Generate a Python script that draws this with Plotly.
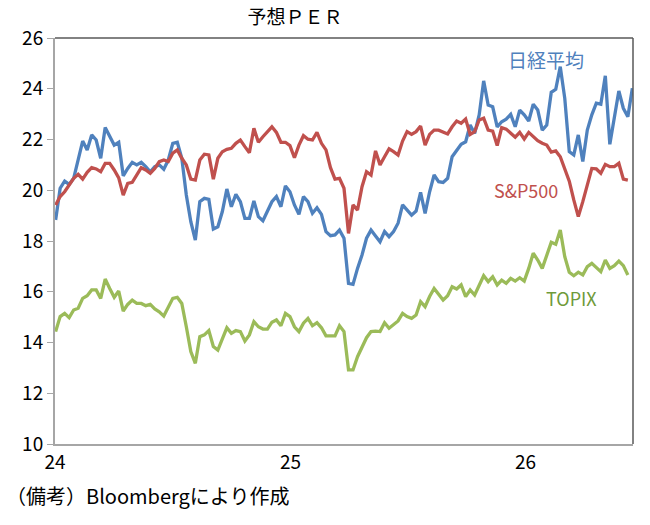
import pandas as pd
import plotly.graph_objects as go

# weekly observations
start_date = "2024-01-02"
n_points = 129
dates = pd.date_range(start_date, periods=n_points, freq="7D")

nikkei = [
    18.83, 20.08, 20.36, 20.23, 20.47, 21.26, 21.94, 21.59, 22.18, 21.98, 21.26, 22.47, 22.11, 21.78, 21.89, 20.57,
    20.86, 21.10, 21.00, 21.10, 20.93, 20.73, 20.93, 21.00, 20.83, 21.19, 21.85, 21.89, 21.26, 19.81, 18.76, 18.04, 19.55,
    19.68, 19.64, 18.47, 18.56, 19.16, 20.05, 19.35, 19.84, 19.55, 18.89, 18.89, 19.58, 18.96, 18.80, 19.16, 19.55,
    19.75, 19.35, 20.17, 19.94, 19.42, 19.05, 19.75, 19.55, 19.09, 19.31, 19.05, 18.37, 18.21, 18.24, 18.43, 18.11,
    16.33, 16.29, 16.92, 17.45, 18.11, 18.43, 18.20, 17.97, 18.37, 18.17, 18.37, 18.70, 19.42, 19.22, 19.02, 19.18,
    19.92, 19.09, 19.94, 20.60, 20.34, 20.31, 20.47, 21.32, 21.59, 21.81, 21.91, 22.57, 22.24, 22.97, 24.31, 23.36,
    23.29, 22.50, 22.70, 22.80, 22.99, 22.50, 23.16, 22.97, 22.73, 23.39, 23.16, 22.37, 22.57, 23.86, 23.98, 24.87,
    23.62, 21.52, 21.39, 22.18, 21.13, 22.37, 22.97, 23.43, 23.39, 24.51, 21.81, 22.90, 23.91, 23.23, 22.90, 24.02,
]

sp500 = [
    19.42, 19.75, 19.94, 20.21, 20.47, 20.63, 20.44, 20.71, 20.89, 20.84, 20.73, 21.06, 21.06, 20.80, 20.49, 19.81,
    20.27, 20.31, 20.63, 20.89, 20.80, 20.67, 20.86, 21.13, 21.19, 21.13, 21.46, 21.59, 21.26, 21.00, 20.44, 20.40, 21.19,
    21.42, 21.39, 20.44, 21.26, 21.52, 21.61, 21.65, 21.85, 21.98, 21.72, 21.48, 22.44, 21.89, 22.11, 22.33, 22.50,
    22.28, 21.89, 21.89, 21.76, 21.28, 21.78, 22.15, 22.01, 21.98, 22.28, 21.85, 21.59, 20.89, 20.44, 20.47, 20.08,
    18.30, 19.42, 19.22, 20.14, 20.73, 20.60, 21.55, 21.00, 21.32, 21.63, 21.52, 21.39, 21.94, 22.31, 22.20, 22.31,
    22.53, 21.78, 22.20, 22.37, 22.37, 22.31, 22.22, 22.50, 22.73, 22.64, 22.81, 22.20, 22.31, 22.77, 22.84, 22.37,
    22.33, 21.76, 22.47, 22.41, 22.24, 22.09, 22.28, 22.02, 22.28, 22.11, 21.95, 21.85, 21.78, 21.50, 21.55, 21.32,
    20.80, 20.36, 19.62, 18.96, 19.55, 20.21, 20.86, 20.84, 20.67, 21.02, 20.93, 20.93, 21.06, 20.44, 20.40, None,
]

topix = [
    14.43, 15.02, 15.15, 14.98, 15.28, 15.35, 15.74, 15.84, 16.07, 16.07, 15.74, 16.50, 16.13, 15.78, 16.03, 15.24,
    15.50, 15.67, 15.54, 15.54, 15.45, 15.50, 15.32, 15.21, 15.04, 15.37, 15.74, 15.78, 15.54, 14.62, 13.64, 13.18, 14.23,
    14.30, 14.47, 13.84, 13.70, 14.14, 14.58, 14.36, 14.47, 14.43, 14.06, 14.30, 14.82, 14.62, 14.53, 14.53, 14.80,
    14.89, 14.66, 15.15, 15.02, 14.62, 14.43, 14.76, 14.95, 14.66, 14.78, 14.58, 14.26, 14.26, 14.26, 14.66, 14.43,
    12.92, 12.92, 13.44, 13.84, 14.19, 14.43, 14.45, 14.43, 14.78, 14.56, 14.69, 14.85, 15.15, 15.02, 14.95, 15.08,
    15.61, 15.41, 15.81, 16.13, 15.90, 15.67, 15.84, 16.20, 16.11, 16.27, 15.81, 16.07, 15.87, 16.29, 16.63, 16.40,
    16.59, 16.27, 16.46, 16.33, 16.53, 16.42, 16.55, 16.42, 16.92, 17.52, 17.25, 16.92, 17.45, 17.95, 17.87, 18.43,
    17.38, 16.77, 16.63, 16.77, 16.66, 16.99, 17.12, 16.95, 16.79, 17.25, 16.92, 17.03, 17.21, 17.03, 16.66, None,
]

series_names = ["日経平均", "S&P500", "TOPIX"]
x_tick_vals = ["2024-01-01", "2025-01-01", "2026-01-01"]
x_tick_text = ["24", "25", "26"]
y_tick_vals = [10, 12, 14, 16, 18, 20, 22, 24, 26]

FONT = "Noto Sans CJK JP"
colors = ["#4F81BD", "#C0504D", "#9BBB59"]

fig = go.Figure()
for name, vals, col in zip(series_names, [nikkei, sp500, topix], colors):
    fig.add_trace(go.Scatter(x=dates, y=vals, name=name, mode="lines",
                             line=dict(color=col, width=3.3), connectgaps=False))

fig.update_layout(
    width=650, height=525,
    margin=dict(l=55, r=17, t=38, b=81),
    paper_bgcolor="white", plot_bgcolor="white",
    showlegend=False,
    font=dict(family=FONT, color="black"),
    title=dict(text="予想ＰＥＲ", x=295 / 650, xanchor="center", y=1 - 17 / 525, yanchor="middle",
               font=dict(size=19, family=FONT, color="black")),
    xaxis=dict(range=["2024-01-01", "2026-06-17"], tickvals=x_tick_vals, ticktext=x_tick_text,
               showgrid=False, zeroline=False, showline=True, linecolor="#a6a6a6", linewidth=2,
               ticks="", tickfont=dict(size=19, family=FONT, color="black")),
    yaxis=dict(range=[10, 26], tickvals=y_tick_vals, showgrid=False, zeroline=False,
               showline=True, linecolor="#a6a6a6", linewidth=2,
               ticks="outside", ticklen=6, tickcolor="#a6a6a6", tickwidth=1,
               tickfont=dict(size=19, family=FONT, color="black")),
    shapes=[
        dict(type="line", xref="paper", yref="paper", x0=0, x1=1, y0=1, y1=1,
             line=dict(color="#595959", width=1.5)),
        dict(type="line", xref="paper", yref="paper", x0=1, x1=1, y0=0, y1=1,
             line=dict(color="#595959", width=1.5)),
    ],
    annotations=[
        dict(text="日経平均", xref="paper", yref="paper", x=0.849, y=0.948, showarrow=False,
             xanchor="center", yanchor="middle", font=dict(size=19, color="#4F81BD", family=FONT)),
        dict(text="S&P500", xref="paper", yref="paper", x=0.815, y=0.626, showarrow=False,
             xanchor="center", yanchor="middle", font=dict(size=18, color="#C0504D", family=FONT)),
        dict(text="TOPIX", xref="paper", yref="paper", x=0.893, y=0.36, showarrow=False,
             xanchor="center", yanchor="middle", font=dict(size=18, color="#6F9A3A", family=FONT)),
        dict(text="（備考）Bloombergにより作成", xref="paper", yref="paper", x=-0.088, y=-0.128,
             showarrow=False, xanchor="left", yanchor="middle",
             font=dict(size=20, color="black", family=FONT)),
    ],
)

fig.write_html("out.html")
